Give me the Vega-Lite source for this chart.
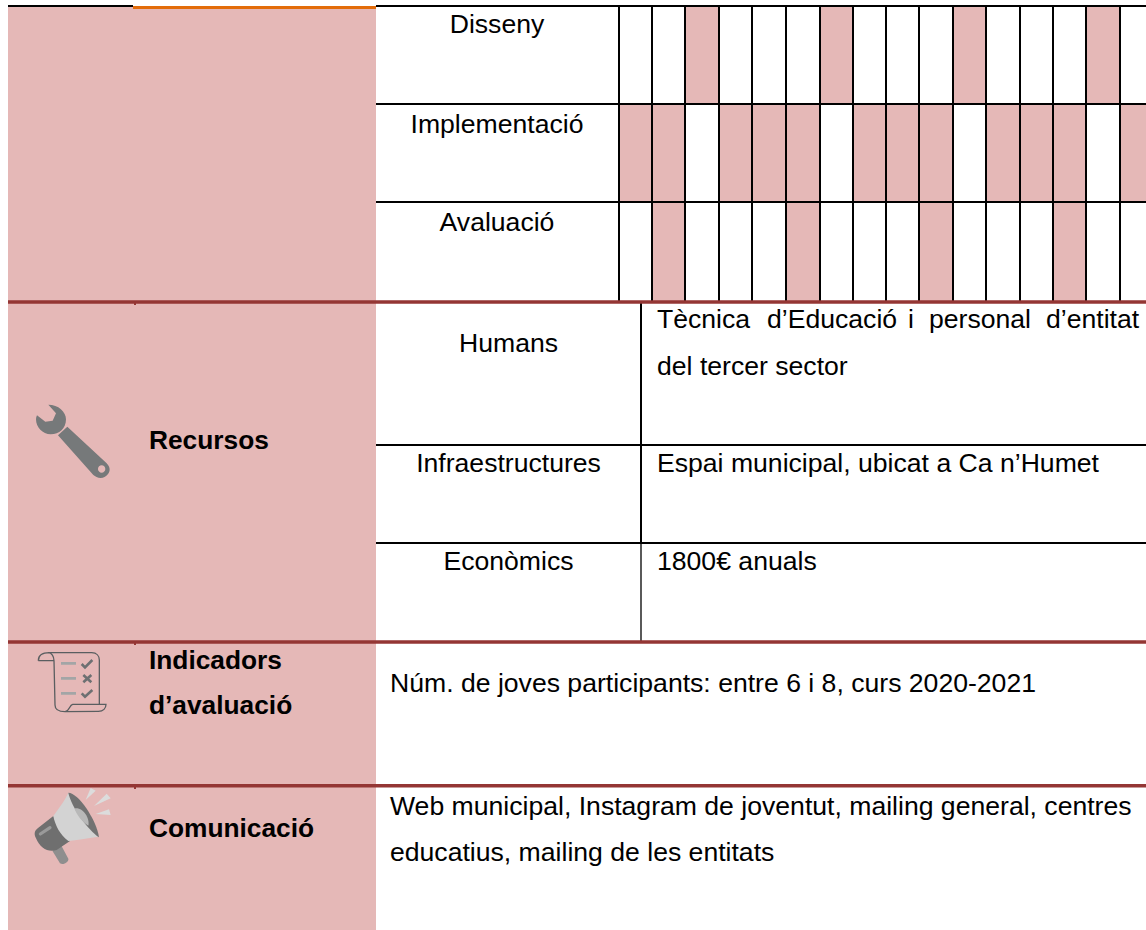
{
"$schema":"https://vega.github.io/schema/vega-lite/v6.json",
"width":1146,"height":930,"padding":0,"autosize":{"type":"none"},"background":"white",
"config":{"view":{"stroke":null},"axis":{"disable":true},"legend":{"disable":true},"text":{"font":"Liberation Sans"}},
"encoding":{
 "x":{"field":"x0","type":"quantitative","scale":{"domain":[0,1146],"range":[0,1146],"nice":false,"zero":false},"axis":null},
 "y":{"field":"y0","type":"quantitative","scale":{"domain":[0,930],"range":[0,930],"nice":false,"zero":false},"axis":null}
},
"layer":[
{"data":{"values":[{"part":"header column","x0":8,"x1":376,"y0":6,"y1":930}]},"mark":{"type":"rect","fill":"#e5b8b7"},"encoding":{"x2":{"field":"x1"},"y2":{"field":"y1"}}},
{"data":{"values":[
{"task":"Disseny","period":3,"x0":685,"x1":719,"y0":6,"y1":104},
{"task":"Disseny","period":7,"x0":820,"x1":853,"y0":6,"y1":104},
{"task":"Disseny","period":11,"x0":953,"x1":986,"y0":6,"y1":104},
{"task":"Disseny","period":15,"x0":1086,"x1":1120,"y0":6,"y1":104},
{"task":"Implementació","period":1,"x0":619,"x1":652,"y0":104,"y1":202},
{"task":"Implementació","period":2,"x0":652,"x1":685,"y0":104,"y1":202},
{"task":"Implementació","period":4,"x0":719,"x1":752,"y0":104,"y1":202},
{"task":"Implementació","period":5,"x0":752,"x1":786,"y0":104,"y1":202},
{"task":"Implementació","period":6,"x0":786,"x1":820,"y0":104,"y1":202},
{"task":"Implementació","period":8,"x0":853,"x1":886,"y0":104,"y1":202},
{"task":"Implementació","period":9,"x0":886,"x1":919,"y0":104,"y1":202},
{"task":"Implementació","period":10,"x0":919,"x1":953,"y0":104,"y1":202},
{"task":"Implementació","period":12,"x0":986,"x1":1020,"y0":104,"y1":202},
{"task":"Implementació","period":13,"x0":1020,"x1":1053,"y0":104,"y1":202},
{"task":"Implementació","period":14,"x0":1053,"x1":1086,"y0":104,"y1":202},
{"task":"Implementació","period":16,"x0":1120,"x1":1146,"y0":104,"y1":202},
{"task":"Avaluació","period":2,"x0":652,"x1":685,"y0":202,"y1":302},
{"task":"Avaluació","period":6,"x0":786,"x1":820,"y0":202,"y1":302},
{"task":"Avaluació","period":10,"x0":919,"x1":953,"y0":202,"y1":302},
{"task":"Avaluació","period":14,"x0":1053,"x1":1086,"y0":202,"y1":302}
]},"mark":{"type":"rect","fill":"#e5b8b7"},"encoding":{"x2":{"field":"x1"},"y2":{"field":"y1"}}},
{"data":{"values":[
{"x0":8,"x1":133,"y0":6,"y1":6},{"x0":376,"x1":1146,"y0":6,"y1":6},
{"x0":376,"x1":1146,"y0":104,"y1":104},{"x0":376,"x1":1146,"y0":202,"y1":202},
{"x0":376,"x1":1146,"y0":445,"y1":445},{"x0":376,"x1":1146,"y0":543,"y1":543},
{"x0":619,"x1":619,"y0":6,"y1":302},{"x0":652,"x1":652,"y0":6,"y1":302},{"x0":685,"x1":685,"y0":6,"y1":302},
{"x0":719,"x1":719,"y0":6,"y1":302},{"x0":752,"x1":752,"y0":6,"y1":302},{"x0":786,"x1":786,"y0":6,"y1":302},
{"x0":820,"x1":820,"y0":6,"y1":302},{"x0":853,"x1":853,"y0":6,"y1":302},{"x0":886,"x1":886,"y0":6,"y1":302},
{"x0":919,"x1":919,"y0":6,"y1":302},{"x0":953,"x1":953,"y0":6,"y1":302},{"x0":986,"x1":986,"y0":6,"y1":302},
{"x0":1020,"x1":1020,"y0":6,"y1":302},{"x0":1053,"x1":1053,"y0":6,"y1":302},{"x0":1086,"x1":1086,"y0":6,"y1":302},
{"x0":1120,"x1":1120,"y0":6,"y1":302},{"x0":641,"x1":641,"y0":302,"y1":543}
]},"mark":{"type":"rule","stroke":"#000000","strokeWidth":2},"encoding":{"x2":{"field":"x1"},"y2":{"field":"y1"}}},
{"data":{"values":[{"x0":641,"x1":641,"y0":543,"y1":641}]},"mark":{"type":"rule","stroke":"#000000","strokeWidth":1.3},"encoding":{"x2":{"field":"x1"},"y2":{"field":"y1"}}},
{"data":{"values":[{"x0":133,"x1":376,"y0":7.5,"y1":7.5}]},"mark":{"type":"rule","stroke":"#e36c0a","strokeWidth":3},"encoding":{"x2":{"field":"x1"},"y2":{"field":"y1"}}},
{"data":{"values":[
{"x0":8,"x1":1146,"y0":302,"y1":302},{"x0":8,"x1":1146,"y0":642,"y1":642},{"x0":8,"x1":1146,"y0":785.7,"y1":785.7}
]},"mark":{"type":"rule","stroke":"#943634","strokeWidth":3.6},"encoding":{"x2":{"field":"x1"},"y2":{"field":"y1"}}},
{"data":{"values":[
{"x0":135,"x1":135,"y0":303,"y1":305},{"x0":135,"x1":135,"y0":643,"y1":645},{"x0":135,"x1":135,"y0":787,"y1":789}
]},"mark":{"type":"rule","stroke":"#943634","strokeWidth":2},"encoding":{"x2":{"field":"x1"},"y2":{"field":"y1"}}},
{"data":{"values":[
{"label":"Disseny","x0":497,"y0":33},{"label":"Implementació","x0":497,"y0":132.7},{"label":"Avaluació","x0":497,"y0":230.7},
{"label":"Humans","x0":508.5,"y0":351.7},{"label":"Infraestructures","x0":508.5,"y0":472},{"label":"Econòmics","x0":508.5,"y0":570}
]},"mark":{"type":"text","align":"center","baseline":"alphabetic","fontSize":26.6,"fill":"#000000","font":"Liberation Sans"},"encoding":{"text":{"field":"label"}}},
{"data":{"values":[
{"label":"Tècnica","x0":657,"y0":328},{"label":"d’Educació","x0":767,"y0":328},{"label":"i","x0":908,"y0":328},{"label":"personal","x0":929,"y0":328},{"label":"d’entitat","x0":1046,"y0":328},
{"label":"del tercer sector","x0":657,"y0":375},
{"label":"Espai municipal, ubicat a Ca n’Humet","x0":657,"y0":472},
{"label":"1800€ anuals","x0":657,"y0":570},
{"label":"Núm. de joves participants: entre 6 i 8, curs 2020-2021","x0":390,"y0":691.7},
{"label":"Web municipal, Instagram de joventut, mailing general, centres","x0":390,"y0":815},
{"label":"educatius, mailing de les entitats","x0":390,"y0":860.7}
]},"mark":{"type":"text","align":"left","baseline":"alphabetic","fontSize":26.6,"fill":"#000000","font":"Liberation Sans"},"encoding":{"text":{"field":"label"}}},
{"data":{"values":[
{"label":"Recursos","x0":149,"y0":449},{"label":"Indicadors","x0":149,"y0":669},{"label":"d’avaluació","x0":149,"y0":714},{"label":"Comunicació","x0":149,"y0":836.7}
]},"mark":{"type":"text","align":"left","baseline":"alphabetic","fontSize":26.3,"fontWeight":"bold","fill":"#000000","font":"Liberation Sans"},"encoding":{"text":{"field":"label"}}},
{"data":{"values":[{"icon":"wrench","x0":30,"y0":400}]},"mark":{"type":"point","filled":true,"opacity":1,"size":0.4444,"fill":"#76797a","stroke":null,"shape":"M55 14C85 14 108 35 108 58C108 85 88 103 62 103C38 103 18 82 18 58C18 54 19 50 21 46L46 65L68 62L78 40ZM84 106L112 80L230 190C245 205 240 222 225 230C212 238 198 232 190 225ZM226 207A11 11 0 0 0 204 207A11 11 0 0 0 226 207Z"}},
{"data":{"values":[{"icon":"scroll outline","x0":30,"y0":640}]},"mark":{"type":"point","filled":false,"opacity":1,"size":0.4444,"fill":null,"stroke":"#5a5e60","strokeWidth":1.3,"shape":"M25 62C25 45 40 38 58 38L185 38C200 38 208 48 208 60L208 193M25 62L72 62C72 50 65 38 55 38M72 62L75 195C75 210 90 215 105 215C118 215 118 195 128 193L228 193C228 205 220 214 205 214L105 215"}},
{"data":{"values":[{"icon":"scroll lines","x0":30,"y0":640}]},"mark":{"type":"point","filled":false,"opacity":1,"size":0.4444,"fill":null,"stroke":"#a3a5a6","strokeWidth":2.6,"shape":"M93 70L138 70M93 115L138 115M93 160L138 160"}},
{"data":{"values":[{"icon":"scroll marks","x0":30,"y0":640}]},"mark":{"type":"point","filled":false,"opacity":1,"size":0.4444,"fill":null,"stroke":"#6d7072","strokeWidth":2.6,"shape":"M155 72L165 82L187 60M160 105L184 127M184 105L160 127M155 160L165 170L187 150"}},
{"data":{"values":[{"icon":"megaphone handle","x0":25,"y0":780}]},"mark":{"type":"point","filled":true,"opacity":1,"size":0.4444,"fill":"#8e8e8e","stroke":null,"shape":"M82 212L108 195L130 236C132 246 115 256 105 250Z"}},
{"data":{"values":[{"icon":"megaphone body","x0":25,"y0":780}]},"mark":{"type":"point","filled":true,"opacity":1,"size":0.4444,"fill":"#6f6f6f","stroke":null,"shape":"M85 108L135 183L95 210C70 218 45 205 33 175C25 160 30 150 40 143Z"}},
{"data":{"values":[{"icon":"megaphone highlight","x0":25,"y0":780}]},"mark":{"type":"point","filled":false,"opacity":1,"size":0.4444,"fill":null,"stroke":"#9a9a9a","strokeWidth":3.2,"strokeCap":"round","shape":"M46 162L75 143"}},
{"data":{"values":[{"icon":"megaphone cone","x0":25,"y0":780}]},"mark":{"type":"point","filled":true,"opacity":1,"size":0.4444,"fill":"#d3d3d3","stroke":null,"shape":"M130 38L220 170C185 175 155 180 130 183C105 165 90 135 85 108C105 80 120 60 130 38Z"}},
{"data":{"values":[{"icon":"megaphone mouth","x0":25,"y0":780}]},"mark":{"type":"point","filled":true,"opacity":1,"size":0.4444,"fill":"#727272","stroke":null,"shape":"M130 38C160 38 215 120 222 172C190 150 140 85 130 38Z"}},
{"data":{"values":[{"icon":"megaphone inner","x0":25,"y0":780}]},"mark":{"type":"point","filled":true,"opacity":1,"size":0.4444,"fill":"#b8b8b8","stroke":null,"shape":"M148 85C175 80 195 115 190 137C170 125 155 105 148 85Z"}},
{"data":{"values":[{"icon":"megaphone rays","x0":25,"y0":780}]},"mark":{"type":"point","filled":true,"opacity":1,"size":0.4444,"fill":"#dcdcdc","stroke":null,"shape":"M182 60L197 24L212 32ZM207 78L245 41L257 55ZM212 102L252 88L257 105Z"}}
]
}
